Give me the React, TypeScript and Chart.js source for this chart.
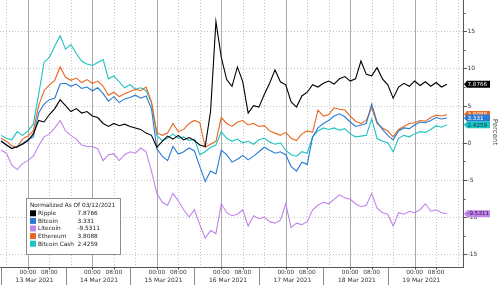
import React, { useEffect, useRef } from 'react';
import { Chart, registerables } from 'chart.js';

Chart.register(...registerables);

// ---- data (hours counted from 13 Mar 2021 00:00) ----
const START_HOUR = -10;
const STEP_HOURS = 2;

const ripple = [0.2, -0.3, -0.8, -0.5, -0.2, 0.3, 1.2, 3.0, 2.8, 3.8, 4.6, 5.8, 5.0, 4.2, 4.6, 4.0, 4.2, 3.6, 3.4, 2.6, 2.2, 2.6, 2.3, 2.5, 2.2, 2.0, 1.8, 1.3, 1.0, -0.6, 0.2, 0.9, 0.5, 1.0, 0.4, 0.7, 0.3, -0.3, -0.5, 4.2, 16.3, 11.5, 8.5, 7.6, 10.2, 8.2, 4.0, 5.0, 4.8, 6.5, 8.0, 9.8, 8.2, 7.8, 5.5, 4.8, 6.3, 6.8, 7.8, 7.5, 8.0, 8.3, 7.9, 8.6, 8.9, 8.3, 8.6, 11.0, 9.2, 9.0, 10.1, 8.6, 7.8, 6.0, 7.5, 8.0, 7.6, 8.3, 7.7, 8.2, 7.6, 8.1, 7.5, 7.8766];
const bitcoin = [0.3, -0.3, -0.7, -0.6, -0.1, 0.4, 0.8, 4.0, 5.2, 5.8, 6.0, 7.9, 8.0, 7.6, 7.9, 7.3, 7.5, 7.0, 7.4, 6.6, 5.6, 6.2, 5.4, 5.9, 6.1, 6.4, 6.0, 6.3, 4.6, -0.8, -1.8, -2.4, -0.5, -1.5, -1.2, -0.7, -1.1, -3.2, -5.2, -3.8, -4.2, -1.0, -1.6, -2.6, -2.2, -1.7, -2.3, -1.8, -1.2, -0.6, -1.0, -1.4, -1.2, -1.6, -3.2, -3.8, -2.6, -2.9, 0.8, 2.0, 2.6, 3.0, 3.6, 3.9, 3.5, 2.8, 2.2, 2.4, 2.6, 5.2, 2.8, 1.8, 1.0, 0.4, 1.6, 2.0, 1.9, 2.4, 2.8, 2.7, 3.0, 3.4, 3.2, 3.331];
const litecoin = [-1.0, -1.4, -3.0, -3.6, -2.8, -2.4, -1.8, -0.4, 0.8, 1.2, 2.0, 3.0, 1.6, 1.0, 0.5, -0.3, -0.5, -0.5, -0.8, -2.4, -1.6, -1.5, -2.4, -1.6, -1.2, -1.4, -0.7, -1.2, -3.8, -6.8, -8.0, -8.4, -6.8, -7.8, -9.0, -10.0, -9.0, -11.0, -12.8, -11.8, -12.2, -8.2, -9.4, -9.8, -9.6, -9.0, -11.2, -9.8, -10.2, -10.0, -10.6, -10.8, -10.4, -8.2, -11.4, -10.8, -11.0, -10.6, -9.0, -8.4, -8.0, -8.2, -7.6, -7.0, -7.4, -7.6, -8.2, -8.6, -8.4, -6.8, -8.8, -9.4, -9.6, -11.2, -9.4, -9.6, -9.2, -9.4, -9.0, -8.2, -9.2, -9.0, -9.4, -9.5311];
const ethereum = [0.6, 0.2, -0.4, -0.6, 0.5, 0.9, 1.6, 5.0, 7.0, 7.8, 8.4, 10.2, 8.8, 8.4, 8.7, 8.1, 8.5, 8.0, 8.3, 7.6, 6.4, 6.8, 6.2, 6.6, 6.9, 7.2, 7.0, 7.5, 5.5, 1.4, 1.0, 1.3, 2.6, 1.5, 1.8, 2.6, 3.0, 2.7, -0.6, -0.2, 0.2, 3.4, 2.6, 2.2, 2.8, 3.0, 2.4, 2.6, 2.2, 2.3, 1.6, 1.3, 1.0, 1.4, 0.6, 0.3, 1.2, 1.6, 1.4, 4.4, 3.6, 3.8, 4.7, 4.5, 4.4, 3.6, 2.9, 2.6, 3.0, 4.7, 2.6, 2.0, 1.6, 0.8, 1.8, 2.2, 2.6, 2.7, 3.0, 2.9, 3.4, 3.7, 3.6, 3.8088];
const bitcoinCash = [1.0, 0.6, 0.4, 1.5, 1.0, 1.6, 2.5, 6.5, 10.8, 11.5, 13.0, 14.4, 12.6, 13.2, 12.0, 11.0, 10.6, 10.4, 10.8, 11.2, 8.6, 9.0, 8.2, 7.4, 7.8, 7.2, 7.4, 7.0, 5.4, 1.0, 0.3, 0.6, 1.2, 0.6, 0.8, 0.3, 0.5, -1.6, -1.2, -0.6, -0.3, 1.5, 0.6, 0.2, 0.5, 0.0, 0.2, -0.2, 0.4, 0.6, 0.1, -0.2, 0.0, -1.0, -1.6, -1.8, -1.2, -1.4, 0.8, 1.6, 2.0, 1.8, 2.0, 1.7, 1.9, 1.2, 0.8, 0.9, 1.0, 3.2, 0.6, 0.2, 0.0, -1.2, 0.6, 1.0, 0.8, 1.2, 1.5, 1.4, 1.8, 2.3, 2.1, 2.4259];

const seriesNames = ['Ripple', 'Bitcoin', 'Litecoin', 'Ethereum', 'Bitcoin Cash'];
const seriesValues = [ripple, bitcoin, litecoin, ethereum, bitcoinCash];
const seriesColors = ['#000000', '#2a7ad4', '#c084ea', '#e8661f', '#1ec2c4'];
const lastLabels = ['7.8766', '3.331', '-9.5311', '3.8088', '2.4259'];
const tagTextColors = ['#ffffff', '#ffffff', '#2a1040', '#ffffff', '#073838'];
const tagDrawOrder = [0, 2, 3, 1, 4];

const dayLabels = ['13 Mar 2021', '14 Mar 2021', '15 Mar 2021', '16 Mar 2021', '17 Mar 2021', '18 Mar 2021', '19 Mar 2021'];
const timeLabels = ['00:00', '08:00'];
const yTicks = [-15, -10, -5, 0, 5, 10, 15];
const legendTitle = 'Normalized As Of 03/12/2021';
const axisTitle = 'Percent';

const X_MIN = -10.4;
const X_MAX = 162;
const Y_MIN = -16.7;
const Y_MAX = 19.2;
const FONT = 'DejaVu Sans';

function hLine(ctx: CanvasRenderingContext2D, x1: number, x2: number, y: number) {
  ctx.beginPath();
  ctx.moveTo(x1, y);
  ctx.lineTo(x2, y);
  ctx.stroke();
}
function vLine(ctx: CanvasRenderingContext2D, x: number, y1: number, y2: number) {
  ctx.beginPath();
  ctx.moveTo(x, y1);
  ctx.lineTo(x, y2);
  ctx.stroke();
}

const gridPlugin = {
  id: 'bbgGrid',
  beforeDatasetsDraw(chart: any) {
    const { ctx, chartArea: a, scales } = chart;
    const xs = scales.x;
    const ys = scales.y;
    ctx.save();
    ctx.beginPath();
    ctx.rect(a.left, a.top, a.right - a.left, a.bottom - a.top);
    ctx.clip();
    ctx.lineWidth = 1;
    ctx.strokeStyle = '#c4c4c4';
    ctx.setLineDash([1, 2]);
    for (const v of yTicks) {
      const py = Math.round(ys.getPixelForValue(v)) + 0.5;
      hLine(ctx, a.left, a.right, py);
    }
    for (let d = -1; d < dayLabels.length; d++) {
      for (const off of [8, 16]) {
        const h = d * 24 + off;
        if (h < X_MIN || h > X_MAX) continue;
        const px = Math.round(xs.getPixelForValue(h)) + 0.5;
        vLine(ctx, px, a.top, a.bottom);
      }
    }
    ctx.setLineDash([]);
    ctx.strokeStyle = '#a9a9a9';
    for (let d = 0; d < dayLabels.length; d++) {
      const px = Math.round(xs.getPixelForValue(d * 24)) + 0.5;
      vLine(ctx, px, a.top, a.bottom);
    }
    ctx.restore();
  },
};

function drawTag(ctx: CanvasRenderingContext2D, x0: number, yc: number, color: string, text: string, textColor: string) {
  const h = 7;
  const tip = 3;
  const w = 23;
  ctx.beginPath();
  ctx.moveTo(x0, yc);
  ctx.lineTo(x0 + tip, yc - h / 2);
  ctx.lineTo(x0 + tip + w, yc - h / 2);
  ctx.lineTo(x0 + tip + w, yc + h / 2);
  ctx.lineTo(x0 + tip, yc + h / 2);
  ctx.closePath();
  ctx.fillStyle = color;
  ctx.fill();
  ctx.fillStyle = textColor;
  ctx.font = `5.6px "${FONT}"`;
  ctx.textAlign = 'left';
  ctx.textBaseline = 'middle';
  ctx.fillText(text, x0 + tip + 0.5, yc + 0.3);
}

const decorPlugin = {
  id: 'bbgDecor',
  afterDraw(chart: any) {
    const { ctx, chartArea: a, scales } = chart;
    const xs = scales.x;
    const ys = scales.y;
    ctx.save();
    ctx.lineWidth = 1;

    // right axis
    ctx.strokeStyle = '#555555';
    vLine(ctx, Math.round(a.right) + 0.5, a.top, a.bottom + 1);
    for (let i = 0; i < yTicks.length; i++) {
      const py = Math.round(ys.getPixelForValue(yTicks[i])) + 0.5;
      hLine(ctx, a.right, a.right + 4, py);
      const pm = Math.round(ys.getPixelForValue(yTicks[i] + 2.5)) + 0.5;
      if (pm > a.top) hLine(ctx, a.right, a.right + 2.5, pm);
      if (i === 0) {
        const pb = Math.round(ys.getPixelForValue(yTicks[0] - 2.5)) + 0.5;
        if (pb < a.bottom) hLine(ctx, a.right, a.right + 2.5, pb);
      }
    }
    ctx.fillStyle = '#333333';
    ctx.font = `6px "${FONT}"`;
    ctx.textAlign = 'left';
    ctx.textBaseline = 'middle';
    for (const v of yTicks) {
      ctx.fillText(String(v), a.right + 4.5, ys.getPixelForValue(v) + 0.5);
    }

    // axis title
    ctx.save();
    ctx.translate(495, 132);
    ctx.rotate(Math.PI / 2);
    ctx.font = `7px "${FONT}"`;
    ctx.textAlign = 'center';
    ctx.textBaseline = 'middle';
    ctx.fillStyle = '#444444';
    ctx.fillText(axisTitle, 0, 0);
    ctx.restore();

    // bottom axis
    ctx.strokeStyle = '#555555';
    const by = Math.round(a.bottom) + 0.5;
    hLine(ctx, a.left, a.right + 1, by);
    ctx.strokeStyle = '#8a8a8a';
    for (let d = -1; d < dayLabels.length; d++) {
      const h = d * 24 + 14;
      if (h < X_MIN || h > X_MAX - 20) continue;
      const px = Math.round(xs.getPixelForValue(h)) + 0.5;
      vLine(ctx, px, by, 285);
    }
    ctx.strokeStyle = '#444444';
    ctx.fillStyle = '#333333';
    ctx.textAlign = 'center';
    ctx.textBaseline = 'middle';
    for (let d = 0; d < dayLabels.length; d++) {
      for (let t = 0; t < timeLabels.length; t++) {
        const px = xs.getPixelForValue(d * 24 + t * 8);
        vLine(ctx, Math.round(px) + 0.5, by, by + 2);
        ctx.font = `5.8px "${FONT}"`;
        ctx.fillText(timeLabels[t], px, 272.5);
      }
      ctx.font = `6px "${FONT}"`;
      ctx.fillText(dayLabels[d], xs.getPixelForValue(d * 24 + 2.5), 280.5);
    }

    // last value tags
    for (const i of tagDrawOrder) {
      const vals = seriesValues[i];
      const yc = ys.getPixelForValue(vals[vals.length - 1]);
      drawTag(ctx, a.right + 1, yc, seriesColors[i], lastLabels[i], tagTextColors[i]);
    }

    // legend
    const lx = 26.5, ly = 198.5, lw = 94, lh = 56;
    ctx.fillStyle = '#ffffff';
    ctx.fillRect(lx, ly, lw, lh);
    ctx.strokeStyle = '#8c8c8c';
    ctx.strokeRect(lx, ly, lw, lh);
    ctx.fillStyle = '#222222';
    ctx.font = `5.8px "${FONT}"`;
    ctx.textAlign = 'left';
    ctx.textBaseline = 'middle';
    ctx.fillText(legendTitle, 30, 205.5);
    for (let i = 0; i < seriesNames.length; i++) {
      const ry = 213.3 + i * 7.6;
      ctx.fillStyle = seriesColors[i];
      ctx.fillRect(30, ry - 3, 6, 6);
      ctx.fillStyle = '#222222';
      ctx.fillText(seriesNames[i], 38, ry + 0.3);
      ctx.fillText(lastLabels[i], 77.5, ry + 0.3);
    }
    ctx.restore();
  },
};

export default function App() {
  const ref = useRef<HTMLCanvasElement | null>(null);
  useEffect(() => {
    if (!ref.current) return;
    const datasets = seriesNames.map((name, i) => ({
      label: name,
      data: seriesValues[i].map((v, k) => ({ x: START_HOUR + k * STEP_HOURS, y: v })),
      borderColor: seriesColors[i],
      backgroundColor: seriesColors[i],
      borderWidth: 1.1,
      pointRadius: 0,
      tension: 0,
      fill: false,
    }));
    const chart = new Chart(ref.current, {
      type: 'line',
      data: { datasets },
      options: {
        animation: false,
        responsive: false,
        maintainAspectRatio: false,
        devicePixelRatio: 1,
        layout: { padding: 0 },
        plugins: { legend: { display: false }, tooltip: { enabled: false } },
        scales: {
          x: {
            type: 'linear',
            min: X_MIN,
            max: X_MAX,
            position: 'bottom',
            ticks: { display: false },
            grid: { display: false },
            border: { display: false },
            afterFit: (s: any) => { s.height = 18; },
          },
          y: {
            type: 'linear',
            min: Y_MIN,
            max: Y_MAX,
            position: 'right',
            ticks: { display: false },
            grid: { display: false },
            border: { display: false },
            afterFit: (s: any) => { s.width = 37; },
          },
        },
      },
      plugins: [gridPlugin, decorPlugin],
    } as any);
    return () => chart.destroy();
  }, []);
  return (
    <div style={{ position: 'absolute', left: 0, top: 0, width: 500, height: 285, background: '#ffffff' }}>
      <canvas ref={ref} width={500} height={285} style={{ display: 'block' }} />
    </div>
  );
}
